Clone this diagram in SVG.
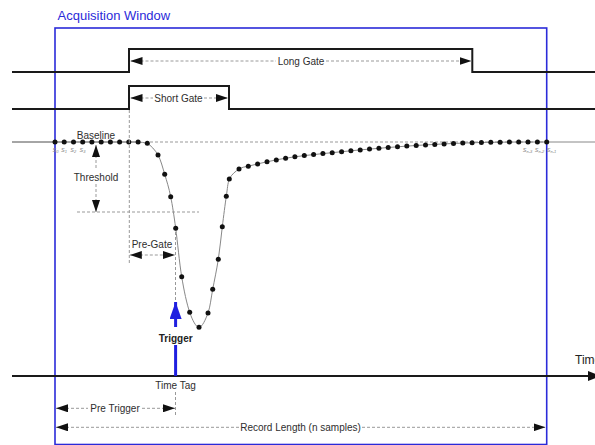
<svg xmlns="http://www.w3.org/2000/svg" width="595" height="445" viewBox="0 0 595 445">
<style>
text{font-family:"Liberation Sans",Arial,sans-serif;}
.lbl{font-size:10px;fill:#2e2e2e;}
.sub{font-size:5.5px;fill:#888;font-style:italic;}
.gate{fill:none;stroke:#1a1a1a;stroke-width:2;}
.dim{fill:none;stroke:#999;stroke-width:1;stroke-dasharray:3 2;}
.dimA{fill:none;stroke:#999;stroke-width:1;stroke-dasharray:3 2;marker-end:url(#ah);}
.dimB{fill:none;stroke:#999;stroke-width:1;stroke-dasharray:3 2;marker-start:url(#ah);}
.dimAB{fill:none;stroke:#999;stroke-width:1;stroke-dasharray:3 2;marker-start:url(#ah);marker-end:url(#ah);}
.dot circle{fill:#111;r:2.5px;}
.grey{fill:none;stroke:#888;stroke-width:1;}
</style>
<defs>
<marker id="ah" viewBox="0 0 12 8" refX="12" refY="4" markerWidth="12" markerHeight="8" markerUnits="userSpaceOnUse" orient="auto-start-reverse"><path d="M0,0 L12,4 L0,8 z" fill="#111"/></marker>
<marker id="bh" viewBox="0 0 17 12" refX="17" refY="6" markerWidth="17" markerHeight="12" markerUnits="userSpaceOnUse" orient="auto"><path d="M0,0 L17,6 L0,12 z" fill="#1f1fe0"/></marker>
<marker id="th" viewBox="0 0 13 10" refX="13" refY="5" markerWidth="13" markerHeight="10" markerUnits="userSpaceOnUse" orient="auto"><path d="M0,0 L13,5 L0,10 z" fill="#111"/></marker>
</defs>
<rect width="595" height="445" fill="#fff"/>

<g id="acquisition-window">
<rect x="55" y="28" width="491.7" height="416.5" fill="none" stroke="#2b2bd9" stroke-width="1.6"/>
<text x="57.5" y="20" style="font-size:13px;fill:#2b2bd9;">Acquisition Window</text>
</g>

<g id="long-gate">
<polyline class="gate" points="12,72 129,72 129,49 472.3,49 472.3,72 595,72"/>
<text class="lbl" x="301" y="64.6" text-anchor="middle">Long Gate</text>
</g>

<g id="short-gate">
<polyline class="gate" points="12,109 129,109 129,86 229,86 229,109 595,109"/>
<text class="lbl" x="178.5" y="101.6" text-anchor="middle">Short Gate</text>
</g>

<g id="baseline">
<line class="grey" x1="12" y1="142" x2="140" y2="142"/>
<line class="dim" x1="150" y1="142" x2="546" y2="142" stroke="#aaa"/>
<line class="grey" x1="546" y1="142" x2="595" y2="142"/>
<text class="lbl" x="96" y="138.5" text-anchor="middle">Baseline</text>
<text class="sub" x="55.5" y="151.5" text-anchor="middle">S<tspan font-size="4" dy="1">0</tspan></text>
<text class="sub" x="64" y="151.5" text-anchor="middle">S<tspan font-size="4" dy="1">1</tspan></text>
<text class="sub" x="73.3" y="151.5" text-anchor="middle">S<tspan font-size="4" dy="1">2</tspan></text>
<text class="sub" x="82.5" y="151.5" text-anchor="middle">S<tspan font-size="4" dy="1">3</tspan></text>
<text class="sub" x="527.5" y="151.5" text-anchor="middle">S<tspan font-size="4" dy="1">n-3</tspan></text>
<text class="sub" x="539.5" y="151.5" text-anchor="middle">S<tspan font-size="4" dy="1">n-2</tspan></text>
<text class="sub" x="551.5" y="151.5" text-anchor="middle">S<tspan font-size="4" dy="1">n-1</tspan></text>
</g>

<g id="waveform">
<path class="grey" d="M 12 142 L 138.1 142 C 141.2 142.1 144 142.6 147.3 143.2 C 150.6 145.4 155.1 149.8 158 155 C 160.9 160.2 162.6 167.4 164.7 174.3 C 166.8 181.3 168.9 187.7 170.7 196.7 C 172.5 205.7 173.9 215 175.7 228.3 C 177.5 241.6 179.4 262.7 181.7 276.7 C 184 290.7 186.8 303.9 189.7 312.3 C 192.6 320.7 196 327.2 199 327.3 C 202.1 327.4 205.7 319.3 208 313 C 210.3 306.7 211 298.3 212.7 289.3 C 214.4 280.4 216.7 269.7 218.3 259.3 C 219.9 248.9 221 237.2 222.3 226.7 C 223.6 216.2 225.1 204.3 226.3 196.3 C 227.5 188.4 227.6 183.6 229.3 179 C 231.4 174.5 235.8 171.1 239 169 C 242.2 166.9 245.2 167 248.3 166.2 C 251.4 165.4 254.5 164.6 257.6 163.9 L 267 161.8 L 276.3 159.9 L 285.6 158.2 L 294.9 156.8 L 304.3 155.6 L 313.6 154.6 L 322.9 153.6 L 332.2 152.7 L 341.6 151.7 L 350.9 150.8 L 360.2 149.9 L 369.5 149.1 L 378.9 148.3 L 388.2 147.5 L 397.5 146.8 L 406.8 146.1 L 416.2 145.5 L 425.5 144.9 L 434.8 144.4 L 444.1 143.9 L 453.5 143.5 L 462.8 143.1 L 472.1 142.8 L 481.4 142.5 L 490.8 142.3 L 500.1 142.2 L 509.4 142.1 L 518.7 142 L 546.7 142"/>
<g class="dot">
<circle cx="55" cy="142" r="2.5"/><circle cx="64.2" cy="142" r="2.5"/><circle cx="73.5" cy="142" r="2.5"/><circle cx="82.7" cy="142" r="2.5"/><circle cx="91.9" cy="142" r="2.5"/><circle cx="101.2" cy="142" r="2.5"/><circle cx="110.4" cy="142" r="2.5"/><circle cx="119.6" cy="142" r="2.5"/><circle cx="128.8" cy="142" r="2.5"/><circle cx="138.1" cy="142" r="2.5"/><circle cx="147.3" cy="143.2" r="2.5"/>
<circle cx="158" cy="155" r="2.5"/><circle cx="164.7" cy="174.3" r="2.5"/><circle cx="170.7" cy="196.7" r="2.5"/><circle cx="175.7" cy="228.3" r="2.5"/><circle cx="181.7" cy="276.7" r="2.5"/><circle cx="189.7" cy="312.3" r="2.5"/><circle cx="199" cy="327.3" r="2.5"/><circle cx="208" cy="313" r="2.5"/><circle cx="212.7" cy="289.3" r="2.5"/><circle cx="218.3" cy="259.3" r="2.5"/><circle cx="222.3" cy="226.7" r="2.5"/><circle cx="226.3" cy="196.3" r="2.5"/><circle cx="229.3" cy="179" r="2.5"/>
<circle cx="239" cy="169" r="2.5"/><circle cx="248.3" cy="166.2" r="2.5"/><circle cx="257.6" cy="163.9" r="2.5"/><circle cx="267" cy="161.8" r="2.5"/><circle cx="276.3" cy="159.9" r="2.5"/><circle cx="285.6" cy="158.2" r="2.5"/><circle cx="294.9" cy="156.8" r="2.5"/><circle cx="304.3" cy="155.6" r="2.5"/><circle cx="313.6" cy="154.6" r="2.5"/><circle cx="322.9" cy="153.6" r="2.5"/><circle cx="332.2" cy="152.7" r="2.5"/><circle cx="341.6" cy="151.7" r="2.5"/><circle cx="350.9" cy="150.8" r="2.5"/><circle cx="360.2" cy="149.9" r="2.5"/><circle cx="369.5" cy="149.1" r="2.5"/><circle cx="378.9" cy="148.3" r="2.5"/><circle cx="388.2" cy="147.5" r="2.5"/><circle cx="397.5" cy="146.8" r="2.5"/><circle cx="406.8" cy="146.1" r="2.5"/><circle cx="416.2" cy="145.5" r="2.5"/><circle cx="425.5" cy="144.9" r="2.5"/><circle cx="434.8" cy="144.4" r="2.5"/><circle cx="444.1" cy="143.9" r="2.5"/><circle cx="453.5" cy="143.5" r="2.5"/><circle cx="462.8" cy="143.1" r="2.5"/><circle cx="472.1" cy="142.8" r="2.5"/><circle cx="481.4" cy="142.5" r="2.5"/><circle cx="490.8" cy="142.3" r="2.5"/><circle cx="500.1" cy="142.2" r="2.5"/><circle cx="509.4" cy="142.1" r="2.5"/><circle cx="518.7" cy="142" r="2.5"/><circle cx="528" cy="142" r="2.5"/><circle cx="537.4" cy="142" r="2.5"/><circle cx="546.7" cy="142" r="2.5"/>
</g>
</g>

<g id="threshold">
<line class="dim" x1="77" y1="212" x2="199" y2="212"/>
<text class="lbl" x="96" y="180.7" text-anchor="middle">Threshold</text>
</g>

<g id="pre-gate">
<text class="lbl" x="152" y="248" text-anchor="middle">Pre-Gate</text>
</g>

<g id="trigger">
<text x="175.7" y="342.3" text-anchor="middle" style="font-size:10px;font-weight:bold;fill:#222;">Trigger</text>
</g>

<g id="time-axis">
<line x1="12" y1="376" x2="601" y2="376" stroke="#1a1a1a" stroke-width="2" marker-end="url(#th)"/>
<text x="575" y="364" style="font-size:12px;fill:#222;">Time</text>
<text class="lbl" x="175.5" y="389" text-anchor="middle">Time Tag</text>
</g>

<g id="pre-trigger">
<text class="lbl" x="115" y="411.6" text-anchor="middle">Pre Trigger</text>
</g>

<g id="record-length">
<text class="lbl" x="300.5" y="430.8" text-anchor="middle">Record Length (n samples)</text>
</g>

<g id="connectors">
<line class="dimB" x1="130.5" y1="61" x2="276" y2="61"/>
<line class="dimA" x1="326" y1="61" x2="471.5" y2="61"/>
<line class="dimB" x1="130.5" y1="98" x2="153" y2="98"/>
<line class="dimA" x1="204" y1="98" x2="228" y2="98"/>
<line class="dim" x1="129.3" y1="110" x2="129.3" y2="265"/>
<line class="dimB" x1="96" y1="145" x2="96" y2="170"/>
<line class="dimA" x1="96" y1="184" x2="96" y2="212"/>
<line class="dimAB" x1="129.8" y1="255" x2="175" y2="255"/>
<line class="dim" x1="175.5" y1="232" x2="175.5" y2="302"/>
<line x1="175.6" y1="327" x2="175.6" y2="302" stroke="#1f1fe0" stroke-width="3" marker-end="url(#bh)"/>
<line x1="175.6" y1="345" x2="175.6" y2="376" stroke="#1f1fe0" stroke-width="3"/>
<line class="dim" x1="175.5" y1="392" x2="175.5" y2="415"/>
<line class="dimB" x1="56" y1="408.3" x2="88" y2="408.3"/>
<line class="dimA" x1="142" y1="408.3" x2="175" y2="408.3"/>
<line class="dimB" x1="56" y1="427.3" x2="239" y2="427.3"/>
<line class="dimA" x1="362" y1="427.3" x2="545.5" y2="427.3"/>
</g>
</svg>
